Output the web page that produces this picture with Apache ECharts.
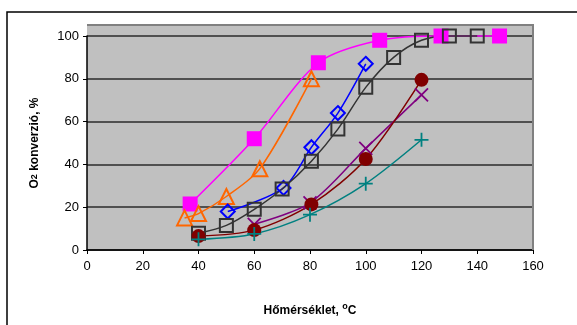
<!DOCTYPE html>
<html><head><meta charset="utf-8">
<script src="https://cdn.jsdelivr.net/npm/echarts@6/dist/echarts.min.js"></script>
<style>html,body{margin:0;padding:0;background:#fff}#c{width:577px;height:325px}</style>
</head><body><div id="c"></div>
<script>
// Data
const xTicks = [0,20,40,60,80,100,120,140,160];
const yTicks = [0,20,40,60,80,100];
const magX = [37,60,83,105,127,148];
const magY = [21.5,52,87.5,98,100,100];
const oraX = [35,40,50,62,80.5];
const oraY = [15,17,25,38,80];
const bluX = [50.5,70.5,80.5,90,100];
const bluY = [18,29,48,64,87];
const gryX = [40,50,60,70,80.5,90,100,110,120,130,140];
const gryY = [7.8,11.5,19,28.5,41.5,56.5,76,90,98,100,100];
const purX = [60,80,100,120];
const purY = [12,22,47.5,72.5];
const redX = [40,60,80.5,100,120];
const redY = [6.5,9.3,21.3,42.5,79.5];
const teaX = [40,60,80,100,120];
const teaY = [5,7.5,16.5,31,51.5];

const zip = (a,b)=>a.map((v,i)=>[v,b[i]]);
const FONT = '"Liberation Sans", Arial, sans-serif';

function ser(xs, ys, color, symbol, size, fill, bw, lw){
  return {
    type:'line', data: zip(xs,ys), smooth:0.3, clip:false,
    symbol, symbolSize:size,
    lineStyle:{color, width:lw||1.5},
    itemStyle:{color: fill, borderColor: color, borderWidth: bw},
    emphasis:{disabled:true}
  };
}

const chart = echarts.init(document.getElementById('c'), null, {renderer:'canvas'});
chart.setOption({
  animation:false,
  backgroundColor:'#fff',
  grid:{left:87, right:44, top:36, bottom:75, show:true, backgroundColor:'#c0c0c0', borderWidth:0},
  graphic:[
    {type:'rect', z:-5, shape:{x:7,y:12,width:600,height:400}, style:{fill:'#fff', stroke:'#000', lineWidth:1.5}},
    {type:'rect', z:-1, shape:{x:87,y:25,width:446,height:11}, style:{fill:'#c0c0c0'}},
    {type:'polyline', z:1, shape:{points:[[87,25],[533,25],[533,250]]}, style:{stroke:'#808080', lineWidth:2, fill:null}}
  ],
  xAxis:{
    type:'value', min:0, max:160, interval:20,
    axisLine:{show:true, onZero:false, lineStyle:{color:'#000', width:1.5}},
    axisTick:{show:true, length:4, lineStyle:{color:'#000'}},
    axisLabel:{color:'#000', fontSize:13, fontFamily:FONT, margin:10},
    splitLine:{show:false},
    name:'Hőmérséklet, {sup|o}C', nameLocation:'middle', nameGap:52,
    nameTextStyle:{color:'#000', fontSize:12, fontWeight:'bold', fontFamily:FONT,
      rich:{sup:{fontSize:9, fontWeight:'bold', fontFamily:FONT, verticalAlign:'bottom', padding:[0,0,9,0]}}}
  },
  yAxis:{
    type:'value', min:0, max:100, interval:20,
    axisLine:{show:true, onZero:false, lineStyle:{color:'#000', width:1.5}},
    axisTick:{show:true, length:4, lineStyle:{color:'#000'}},
    axisLabel:{color:'#000', fontSize:13, fontFamily:FONT, margin:8},
    splitLine:{show:true, lineStyle:{color:'#505050', width:2}},
    name:'O{sub|2} konverzió, %', nameLocation:'middle', nameGap:46, nameRotate:90,
    nameTextStyle:{color:'#000', fontSize:12, fontWeight:'bold', fontFamily:FONT,
      rich:{sub:{fontSize:9, fontWeight:'bold', fontFamily:FONT}}}
  },
  series:[
    ser(magX, magY, '#ff00ff', 'rect', 15, '#ff00ff', 0),
    ser(oraX, oraY, '#ff6600', 'triangle', 15, 'rgba(0,0,0,0)', 2),
    ser(bluX, bluY, '#0000ff', 'diamond', 14, 'rgba(0,0,0,0)', 2),
    ser(gryX, gryY, '#333333', 'rect', 13, 'rgba(0,0,0,0)', 2),
    ser(purX, purY, '#800080', 'path://M0,0L10,10M10,0L0,10', 13, 'rgba(0,0,0,0)', 1.8),
    ser(redX, redY, '#800000', 'circle', 14, '#800000', 0),
    ser(teaX, teaY, '#008080', 'path://M5,0L5,10M0,5L10,5', 14, 'rgba(0,0,0,0)', 1.8)
  ]
});
</script></body></html>
